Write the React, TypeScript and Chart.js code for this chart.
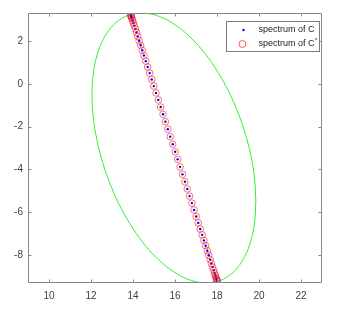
import React, { useEffect, useRef } from "react";
import { Chart, registerables } from "chart.js";

Chart.register(...registerables);

// Eigenvalue positions (spectrum of C and of C*, which coincide)
const specX = [
  13.9, 13.903, 13.913, 13.93, 13.953, 13.983, 14.019, 14.062, 14.11, 14.165,
  14.225, 14.292, 14.363, 14.44, 14.521, 14.608, 14.698, 14.793, 14.891, 14.993,
  15.098, 15.206, 15.317, 15.429, 15.543, 15.658, 15.774, 15.891, 16.009, 16.126,
  16.242, 16.357, 16.471, 16.583, 16.694, 16.802, 16.907, 17.009, 17.107, 17.202,
  17.292, 17.379, 17.46, 17.537, 17.608, 17.675, 17.735, 17.79, 17.838, 17.881,
  17.917, 17.947, 17.97, 17.987, 17.997, 18.0,
];
const specY = [
  3.2, 3.19, 3.16, 3.109, 3.039, 2.949, 2.839, 2.711, 2.564, 2.399,
  2.216, 2.016, 1.8, 1.567, 1.322, 1.06, 0.786, 0.5, 0.202, -0.107,
  -0.424, -0.751, -1.084, -1.424, -1.769, -2.118, -2.469, -2.823, -3.177, -3.531,
  -3.882, -4.231, -4.576, -4.916, -5.249, -5.576, -5.893, -6.202, -6.5, -6.786,
  -7.06, -7.322, -7.567, -7.8, -8.016, -8.216, -8.399, -8.564, -8.711, -8.839,
  -8.949, -9.039, -9.109, -9.16, -9.19, -9.2,
];

// Boundary curve (green ellipse)
const ellX = [
  19.85, 19.791, 19.615, 19.327, 18.937, 18.457, 17.9, 17.284, 16.627, 15.95,
  15.273, 14.616, 14.0, 13.443, 12.963, 12.573, 12.285, 12.109, 12.05, 12.109,
  12.285, 12.573, 12.963, 13.443, 14.0, 14.616, 15.273, 15.95, 16.627, 17.284,
  17.9, 18.457, 18.937, 19.327, 19.615, 19.791, 19.85,
];
const ellY = [
  -5.5, -4.456, -3.367, -2.268, -1.191, -0.169, 0.768, 1.59, 2.272, 2.794,
  3.14, 3.3, 3.268, 3.045, 2.639, 2.062, 1.331, 0.468, -0.5, -1.544,
  -2.633, -3.732, -4.809, -5.831, -6.768, -7.59, -8.272, -8.794, -9.14, -9.3,
  -9.268, -9.045, -8.639, -8.062, -7.331, -6.468, -5.5,
];

const xTicks = [10, 12, 14, 16, 18, 20, 22];
const yTicks = [-8, -6, -4, -2, 0, 2];
const seriesLabels = ["spectrum of C", "spectrum of C"];

const FONT = '"Liberation Sans", Arial, sans-serif';
const AXIS = "#8a8a8a";

const boxPlugin = {
  id: "matlabBox",
  afterDatasetsDraw(chart: any) {
    const { ctx, chartArea: a, scales } = chart;
    const L = Math.round(a.left) + 0.5;
    const R = Math.round(a.right) - 0.5;
    const T = Math.round(a.top) + 0.5;
    const B = Math.round(a.bottom) - 0.5;
    ctx.save();
    ctx.strokeStyle = AXIS;
    ctx.lineWidth = 1;
    ctx.beginPath();
    ctx.rect(L, T, R - L, B - T);
    const len = 3;
    for (const t of scales.x.ticks) {
      const px = Math.round(scales.x.getPixelForValue(t.value)) + 0.5;
      ctx.moveTo(px, B);
      ctx.lineTo(px, B - len);
      ctx.moveTo(px, T);
      ctx.lineTo(px, T + len);
    }
    for (const t of scales.y.ticks) {
      const py = Math.round(scales.y.getPixelForValue(t.value)) + 0.5;
      ctx.moveTo(L, py);
      ctx.lineTo(L + len, py);
      ctx.moveTo(R, py);
      ctx.lineTo(R - len, py);
    }
    ctx.stroke();

    // legend
    const bw = 93;
    const bh = 30;
    const bx = Math.round(a.right) - 3 - bw + 0.5;
    const by = Math.round(a.top) + 8 + 0.5;
    ctx.fillStyle = "#ffffff";
    ctx.fillRect(bx, by, bw, bh);
    ctx.strokeStyle = "#7a7a7a";
    ctx.strokeRect(bx, by, bw, bh);
    const ds = chart.data.datasets;
    // blue dot
    ctx.fillStyle = "#0000ff";
    ctx.beginPath();
    ctx.arc(bx + 17, by + 8.5, 1.2, 0, Math.PI * 2);
    ctx.fill();
    // red circle
    ctx.strokeStyle = "#ff3333";
    ctx.lineWidth = 0.8;
    ctx.beginPath();
    ctx.arc(bx + 16, by + 22.5, 3.5, 0, Math.PI * 2);
    ctx.stroke();
    ctx.fillStyle = "#222222";
    ctx.font = `9px ${FONT}`;
    ctx.textBaseline = "middle";
    ctx.textAlign = "left";
    ctx.fillText(ds[1].label, bx + 32, by + 8.5);
    ctx.fillText(ds[2].label, bx + 32, by + 22.5);
    const w = ctx.measureText(ds[2].label).width;
    ctx.font = `6px ${FONT}`;
    ctx.fillText("*", bx + 32 + w + 0.5, by + 19);
    ctx.restore();
  },
};

export default function App() {
  const ref = useRef<HTMLCanvasElement | null>(null);
  useEffect(() => {
    if (!ref.current) return;
    const chart = new Chart(ref.current, {
      type: "scatter",
      data: {
        datasets: [
          {
            label: "boundary",
            data: ellX.map((x, i) => ({ x, y: ellY[i] })),
            showLine: true,
            borderColor: "#33ee33",
            borderWidth: 1,
            pointRadius: 0,
            tension: 0.4,
            fill: false,
            order: 3,
            clip: 0,
          } as any,
          {
            label: seriesLabels[0],
            data: specX.map((x, i) => ({ x, y: specY[i] })),
            pointRadius: 1.2,
            pointBackgroundColor: "#0000ff",
            pointBorderWidth: 0,
            pointBorderColor: "#0000ff",
            order: 2,
            clip: 0,
          } as any,
          {
            label: seriesLabels[1],
            data: specX.map((x, i) => ({ x, y: specY[i] })),
            pointRadius: 3.3,
            pointBackgroundColor: "rgba(0,0,0,0)",
            pointBorderColor: "rgba(255,30,30,0.9)",
            pointBorderWidth: 0.7,
            order: 1,
            clip: 0,
          } as any,
        ],
      },
      options: {
        animation: false,
        responsive: false,
        maintainAspectRatio: false,
        layout: { padding: { top: 13, right: 27, left: 0, bottom: 0 } },
        plugins: { legend: { display: false }, tooltip: { enabled: false } },
        scales: {
          x: {
            type: "linear",
            min: 9,
            max: 23,
            grid: { display: false, drawTicks: false },
            border: { display: false },
            afterBuildTicks: (s: any) => {
              s.ticks = xTicks.map((v) => ({ value: v }));
            },
            afterFit: (s: any) => {
              s.height = 26;
            },
            ticks: {
              padding: 7,
              color: "#404040",
              font: { family: FONT, size: 10 },
              maxRotation: 0,
            },
          },
          y: {
            type: "linear",
            min: -9.31,
            max: 3.31,
            grid: { display: false, drawTicks: false },
            border: { display: false },
            afterBuildTicks: (s: any) => {
              s.ticks = yTicks.map((v) => ({ value: v }));
            },
            afterFit: (s: any) => {
              s.width = 28;
            },
            ticks: {
              padding: 5,
              color: "#404040",
              font: { family: FONT, size: 10 },
            },
          },
        },
      },
      plugins: [boxPlugin],
    });
    return () => chart.destroy();
  }, []);
  return (
    <div
      style={{
        position: "absolute",
        left: 0,
        top: 0,
        width: 349,
        height: 309,
        background: "#ffffff",
      }}
    >
      <canvas ref={ref} width={349} height={309} />
    </div>
  );
}
